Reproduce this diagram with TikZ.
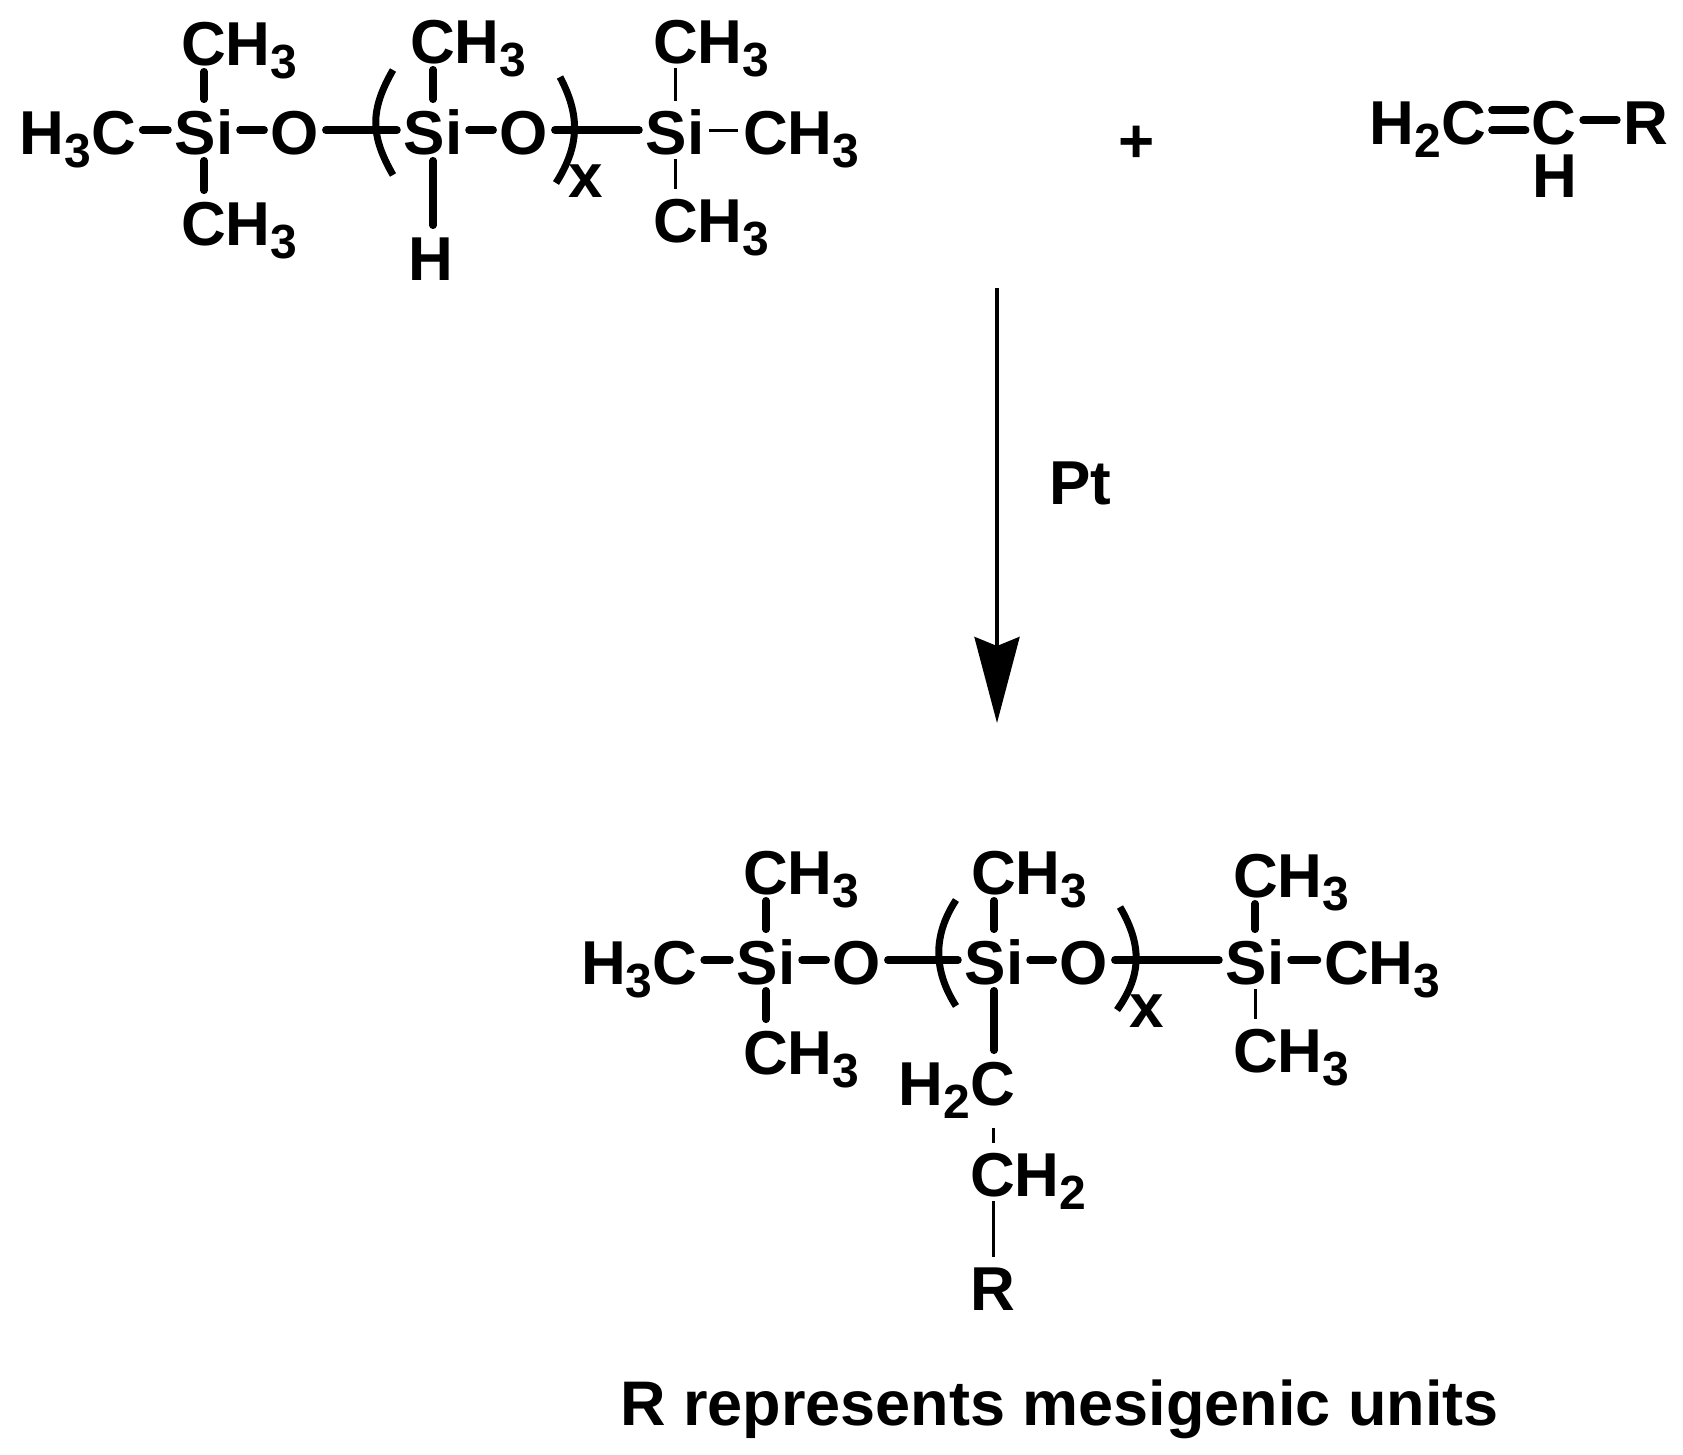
\documentclass[tikz,border=0pt]{standalone}
\usepackage{fontspec}
\usetikzlibrary{arrows.meta}
\setmainfont{Liberation Sans}
\newcommand{\subnum}[1]{\raisebox{-13pt}{\fontsize{48}{50}\selectfont #1}}
\tikzset{
  atom/.style={font=\fontsize{62}{70}\selectfont\bfseries,inner xsep=5pt,inner ysep=5pt,text height=48pt,text depth=0pt,anchor=base},
  atomw/.style={atom,anchor=base west},
  bond/.style={line width=7.5pt,line cap=round,shorten >=1.5pt,shorten <=1.5pt},
  dbond/.style={line width=8pt,line cap=round,shorten >=1pt,shorten <=1pt},
  thinbond/.style={line width=3pt},
  bracket/.style={line width=7pt}
}
\begin{document}
\begin{tikzpicture}[x=1pt,y=-1pt]
\useasboundingbox (0,0) rectangle (1683,1454);
\node[atomw] (hcA) at (14.5,154) {H\subnum{3}C};
\node[atom] (siA) at (204,154) {Si};
\node[atom] (oA) at (295,154) {O};
\node[atom] (siB) at (433,154) {Si};
\node[atom] (oB) at (524,154) {O};
\node[atom] (siC) at (675,154) {Si};
\node[atomw] (chC) at (738,154) {CH\subnum{3}};
\node[atomw] (chA) at (176,65) {CH\subnum{3}};
\node[atomw] (chAb) at (176,245) {CH\subnum{3}};
\node[atomw] (chB) at (405,63) {CH\subnum{3}};
\node[atom] (hB) at (431,280) {H};
\node[atomw] (chCa) at (648,63) {CH\subnum{3}};
\node[atomw] (chCb) at (648,242) {CH\subnum{3}};
\node[atom] (xA) at (586,197) {x};
\draw[bracket] (393,70) .. controls (370,110) and (370,135) .. (393,175);
\draw[bracket] (560,77) .. controls (580,115) and (580,145) .. (556,183);
\draw[bond] (hcA) -- (siA);
\draw[bond] (siA) -- (oA);
\draw[bond] (oA) -- (siB);
\draw[bond] (siB) -- (oB);
\draw[bond] (oB) -- (siC);
\draw[thinbond] (siC) -- (chC);
\draw[bond] (siA.north) -- (chA.south -| siA);
\draw[bond] (siA.south) -- (chAb.north -| siA);
\draw[bond] (siB.north) -- (chB.south -| siB);
\draw[bond] (siB.south) -- (hB.north -| siB);
\draw[thinbond] (siC.north) -- (chCa.south -| siC);
\draw[thinbond] (siC.south) -- (chCb.north -| siC);
\node[atom] (plus) at (1137,162) {+};
\node[atomw] (hcD) at (1364.5,144) {H\subnum{2}C};
\node[atom] (cD) at (1554,144) {C};
\node[atom] (rD) at (1646,144) {R};
\node[atom] (hD) at (1555,197) {H};
\draw[dbond] ([yshift=-10pt]hcD.east) -- ([yshift=-10pt]cD.west);
\draw[dbond] ([yshift=10pt]hcD.east) -- ([yshift=10pt]cD.west);
\draw[bond] (cD) -- (rD);
\coordinate (arrowtop) at (997,288);
\coordinate (arrowtip) at (997,723);
\draw[line width=4pt,-{Stealth[length=86pt,width=45pt,inset=9pt]}] (arrowtop) -- (arrowtip);
\node[atomw] (pt) at (1044,504) {Pt};
\node[atomw] (hcE) at (576,984) {H\subnum{3}C};
\node[atom] (siE) at (766,984) {Si};
\node[atom] (oE) at (857,984) {O};
\node[atom] (siF) at (994,984) {Si};
\node[atom] (oF) at (1084,984) {O};
\node[atom] (siG) at (1255,984) {Si};
\node[atomw] (chG) at (1319,984) {CH\subnum{3}};
\node[atomw] (chE) at (738,894) {CH\subnum{3}};
\node[atomw] (chEb) at (738,1074) {CH\subnum{3}};
\node[atomw] (chF) at (966,894) {CH\subnum{3}};
\node[atomw] (chGa) at (1228,897) {CH\subnum{3}};
\node[atomw] (chGb) at (1228,1072) {CH\subnum{3}};
\node[atom] (xB) at (1147,1027) {x};
\node[atomw] (hcF) at (893.5,1105) {H\subnum{2}C};
\node[atomw] (chH) at (965,1196) {CH\subnum{2}};
\node[atom] (rH) at (993,1310) {R};
\draw[bracket] (956,900) .. controls (933,935) and (933,970) .. (956,1006);
\draw[bracket] (1120,907) .. controls (1142,945) and (1142,975) .. (1117,1010);
\draw[bond] (hcE) -- (siE);
\draw[bond] (siE) -- (oE);
\draw[bond] (oE) -- (siF);
\draw[bond] (siF) -- (oF);
\draw[bond] (oF) -- (siG);
\draw[bond] (siG) -- (chG);
\draw[bond] (siE.north) -- (chE.south -| siE);
\draw[bond] (siE.south) -- (chEb.north -| siE);
\draw[bond] (siF.north) -- (chF.south -| siF);
\draw[bond] (siF.south) -- (hcF.north -| siF);
\draw[bond] (siG.north) -- (chGa.south -| siG);
\draw[thinbond] (siG.south) -- (chGb.north -| siG);
\draw[thinbond,shorten <=18pt] (hcF.south -| rH) -- (chH.north -| rH);
\draw[thinbond] (chH.south -| rH) -- (rH.north);
\node[atomw,font=\fontsize{63}{70}\selectfont\bfseries] (note) at (615,1425) {R represents mesigenic units};
\end{tikzpicture}
\end{document}
